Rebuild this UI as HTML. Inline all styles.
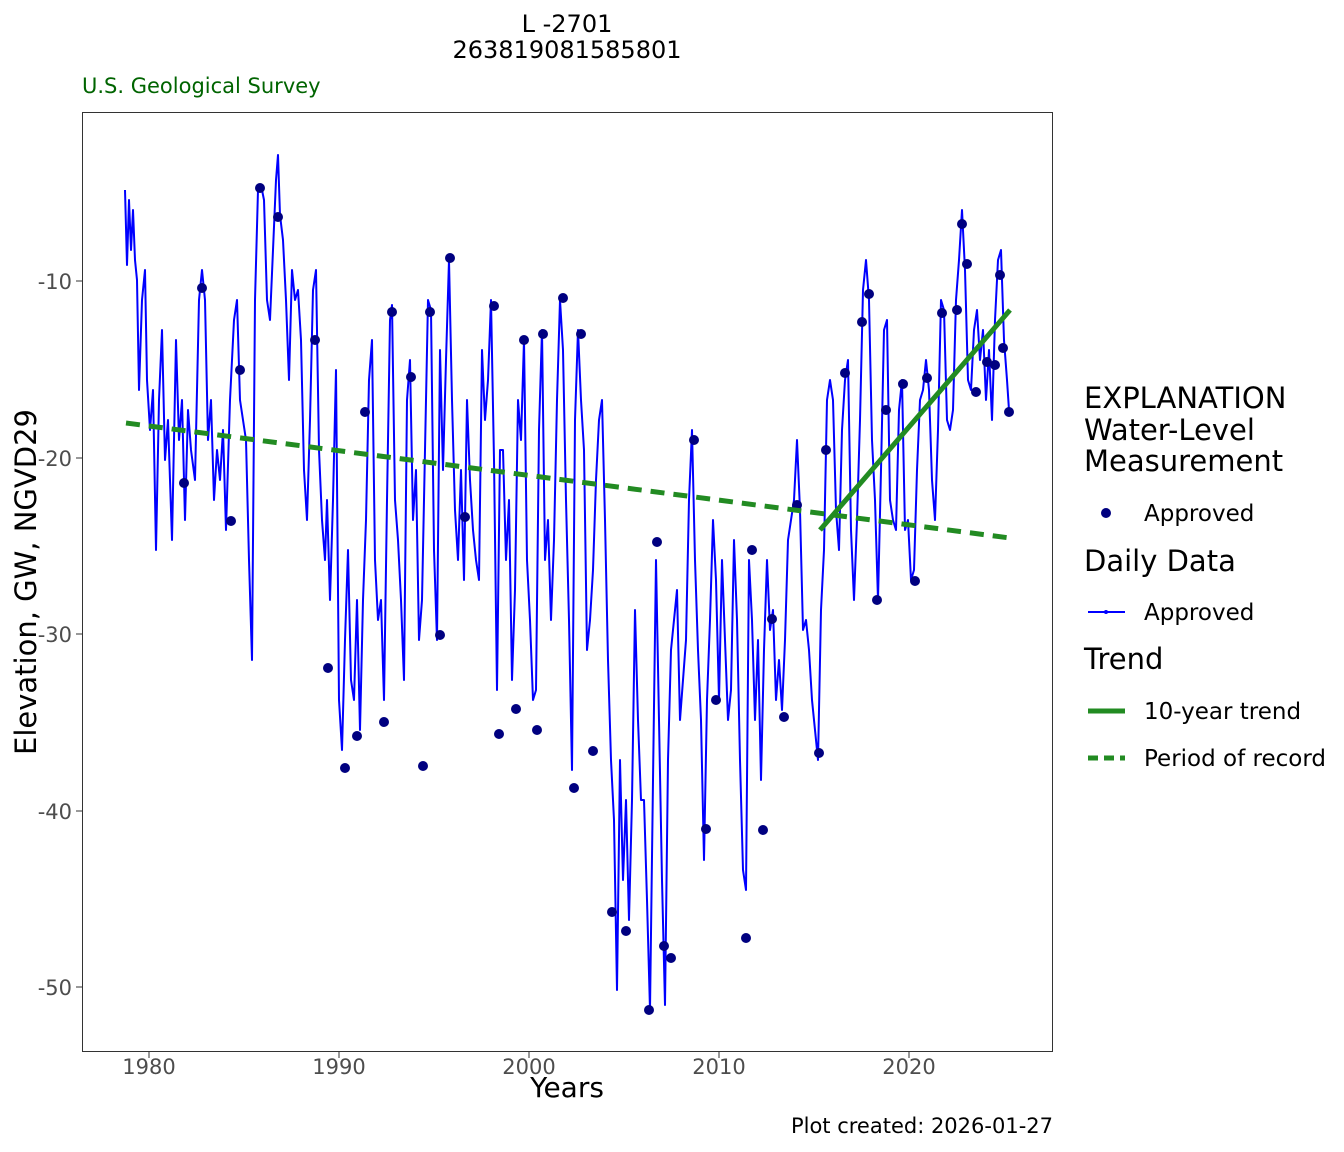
<!DOCTYPE html>
<html><head><meta charset="utf-8"><style>
html,body{margin:0;padding:0;background:#fff}
svg{display:block;font-family:"DejaVu Sans","Liberation Sans",sans-serif}
</style></head><body>
<svg width="1344" height="1152" viewBox="0 0 1344 1152" xmlns="http://www.w3.org/2000/svg">
<text x="567" y="32" font-size="24" text-anchor="middle">L -2701</text>
<text x="567" y="58" font-size="24" text-anchor="middle">263819081585801</text>
<text x="82" y="93" font-size="21" fill="#006400">U.S. Geological Survey</text>
<rect x="82.5" y="112.5" width="970" height="939" fill="#fff" stroke="#333" stroke-width="1"/>
<g stroke="#333" stroke-width="1">
<line x1="149" y1="1052" x2="149" y2="1058"/><line x1="339" y1="1052" x2="339" y2="1058"/><line x1="529" y1="1052" x2="529" y2="1058"/><line x1="719" y1="1052" x2="719" y2="1058"/><line x1="909" y1="1052" x2="909" y2="1058"/>
<line x1="76" y1="281" x2="82" y2="281"/><line x1="76" y1="458" x2="82" y2="458"/><line x1="76" y1="634" x2="82" y2="634"/><line x1="76" y1="811" x2="82" y2="811"/><line x1="76" y1="987" x2="82" y2="987"/>
</g>
<g font-size="21" fill="#4d4d4d" text-anchor="middle">
<text x="149" y="1074">1980</text><text x="339" y="1074">1990</text><text x="529" y="1074">2000</text><text x="719" y="1074">2010</text><text x="909" y="1074">2020</text>
</g>
<g font-size="21" fill="#4d4d4d" text-anchor="end">
<text x="72" y="289">-10</text><text x="72" y="466">-20</text><text x="72" y="642">-30</text><text x="72" y="819">-40</text><text x="72" y="995">-50</text>
</g>
<text x="567" y="1097" font-size="28" text-anchor="middle">Years</text>
<text transform="translate(36,582) rotate(-90)" font-size="29" text-anchor="middle">Elevation, GW, NGVD29</text>
<text x="1053" y="1133" font-size="21" text-anchor="end">Plot created: 2026-01-27</text>
<polyline fill="none" stroke="#0000ff" stroke-width="2" stroke-linejoin="round" points="125,190 127,265 129,200 131,250 133,210 135,260 137,280 139,390 142,300 145,270 147,380 150,430 153,390 156,550 159,400 162,330 165,460 168,420 172,540 176,340 179,440 182,400 185,520 188,410 191,450 195,480 199,300 202,270 205,300 208,440 211,400 214,500 217,450 220,480 223,430 226,530 230,400 234,320 237,300 240,400 243,420 246,440 249,560 252,660 255,300 258,190 261,185 264,200 267,300 270,320 273,250 276,180 278,155 280,215 283,240 286,300 289,380 292,270 295,300 298,290 301,340 304,470 307,520 310,420 313,290 316,270 319,450 322,520 325,560 327,500 330,600 333,500 336,370 339,700 342,750 345,640 348,550 351,680 354,700 357,600 360,730 363,600 366,520 369,380 372,340 375,560 378,620 381,600 384,700 387,500 390,320 392,305 395,500 398,540 401,600 404,680 407,400 410,360 413,520 416,470 419,640 422,600 425,450 428,300 431,310 434,550 437,640 440,350 443,470 446,360 449,260 452,400 455,510 458,560 461,470 464,580 467,400 470,480 473,530 476,560 479,580 482,350 485,420 488,380 491,300 494,460 497,690 500,450 503,450 506,560 509,500 512,680 515,590 518,400 521,440 524,340 527,560 530,620 533,700 536,690 539,430 542,330 545,560 548,520 551,620 554,540 557,400 560,300 563,350 566,500 569,620 572,770 575,420 578,330 581,400 584,450 587,650 590,620 593,570 596,480 599,420 602,400 605,520 608,660 611,760 614,820 617,990 620,760 623,880 626,800 629,920 632,800 635,610 638,720 641,800 644,800 647,900 650,1010 653,780 656,560 659,720 662,880 665,1005 668,760 671,650 674,620 677,590 680,720 683,680 686,640 689,500 692,430 695,560 698,650 701,720 704,860 707,700 710,620 713,520 716,580 719,700 722,560 725,640 728,720 731,690 734,540 737,620 740,760 743,870 746,890 749,560 752,620 755,720 758,640 761,780 764,650 767,560 770,630 773,610 776,700 779,660 782,710 785,640 788,540 791,520 794,500 797,440 800,510 803,630 806,620 809,650 812,700 815,730 818,760 821,610 824,550 827,400 830,380 833,400 836,510 839,550 842,430 845,380 848,360 851,530 854,600 857,520 860,420 863,290 866,260 869,300 872,440 875,500 878,600 881,470 884,330 887,320 890,500 893,520 896,530 899,410 902,380 905,530 908,520 911,580 914,570 917,470 920,400 923,390 926,360 929,390 932,480 935,520 938,430 941,300 944,310 947,420 950,430 953,410 956,300 959,260 962,210 965,270 968,380 971,390 974,330 977,310 980,360 983,330 986,400 989,350 992,420 995,320 998,260 1001,250 1004,340 1007,380 1009,410"/>
<g fill="#000080">
<circle cx="202" cy="288" r="5"/><circle cx="240" cy="370" r="5"/><circle cx="260" cy="188" r="5"/><circle cx="278" cy="217" r="5"/><circle cx="315" cy="340" r="5"/><circle cx="328" cy="668" r="5"/><circle cx="345" cy="768" r="5"/><circle cx="357" cy="736" r="5"/><circle cx="365" cy="412" r="5"/><circle cx="384" cy="722" r="5"/><circle cx="392" cy="312" r="5"/><circle cx="411" cy="377" r="5"/><circle cx="423" cy="766" r="5"/><circle cx="430" cy="312" r="5"/><circle cx="440" cy="635" r="5"/><circle cx="450" cy="258" r="5"/><circle cx="465" cy="517" r="5"/><circle cx="494" cy="306" r="5"/><circle cx="499" cy="734" r="5"/><circle cx="516" cy="709" r="5"/><circle cx="524" cy="340" r="5"/><circle cx="537" cy="730" r="5"/><circle cx="543" cy="334" r="5"/><circle cx="563" cy="298" r="5"/><circle cx="574" cy="788" r="5"/><circle cx="581" cy="334" r="5"/><circle cx="593" cy="751" r="5"/><circle cx="612" cy="912" r="5"/><circle cx="626" cy="931" r="5"/><circle cx="649" cy="1010" r="5"/><circle cx="657" cy="542" r="5"/><circle cx="664" cy="946" r="5"/><circle cx="671" cy="958" r="5"/><circle cx="694" cy="440" r="5"/><circle cx="706" cy="829" r="5"/><circle cx="716" cy="700" r="5"/><circle cx="746" cy="938" r="5"/><circle cx="752" cy="550" r="5"/><circle cx="763" cy="830" r="5"/><circle cx="772" cy="619" r="5"/><circle cx="784" cy="717" r="5"/><circle cx="797" cy="505" r="5"/><circle cx="819" cy="753" r="5"/><circle cx="826" cy="450" r="5"/><circle cx="845" cy="373" r="5"/><circle cx="862" cy="322" r="5"/><circle cx="869" cy="294" r="5"/><circle cx="877" cy="600" r="5"/><circle cx="886" cy="410" r="5"/><circle cx="903" cy="384" r="5"/><circle cx="915" cy="581" r="5"/><circle cx="927" cy="378" r="5"/><circle cx="942" cy="313" r="5"/><circle cx="957" cy="310" r="5"/><circle cx="962" cy="224" r="5"/><circle cx="967" cy="264" r="5"/><circle cx="976" cy="392" r="5"/><circle cx="987" cy="362" r="5"/><circle cx="995" cy="365" r="5"/><circle cx="1000" cy="275" r="5"/><circle cx="1003" cy="348" r="5"/><circle cx="1009" cy="412" r="5"/><circle cx="231" cy="521" r="5"/><circle cx="184" cy="483" r="5"/>
</g>
<line x1="126" y1="423" x2="1010" y2="538" stroke="#228b22" stroke-width="5" stroke-dasharray="14,9"/>
<line x1="820" y1="530" x2="1010" y2="310" stroke="#228b22" stroke-width="5"/>
<g font-size="29">
<text x="1084" y="408">EXPLANATION</text>
<text x="1084" y="440">Water-Level</text>
<text x="1084" y="471">Measurement</text>
<text x="1084" y="571">Daily Data</text>
<text x="1084" y="669">Trend</text>
</g>
<g font-size="23">
<text x="1144" y="521">Approved</text>
<text x="1144" y="620">Approved</text>
<text x="1144" y="719">10-year trend</text>
<text x="1144" y="766">Period of record</text>
</g>
<circle cx="1106" cy="513" r="5" fill="#000080"/>
<line x1="1088" y1="612" x2="1125" y2="612" stroke="#0000ff" stroke-width="2"/>
<circle cx="1106" cy="612" r="2" fill="#0000ff"/>
<line x1="1088" y1="711" x2="1125" y2="711" stroke="#228b22" stroke-width="5"/>
<line x1="1088" y1="758" x2="1125" y2="758" stroke="#228b22" stroke-width="5" stroke-dasharray="10,6"/>
</svg>
</body></html>
